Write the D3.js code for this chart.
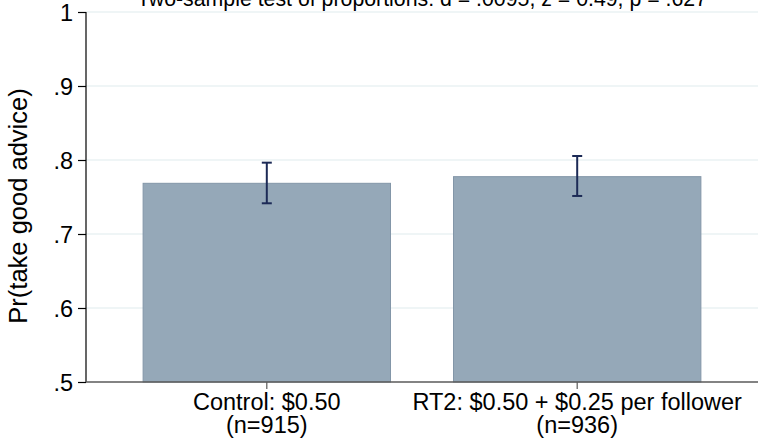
<!DOCTYPE html>
<html>
<head>
<meta charset="utf-8">
<script src="https://cdn.jsdelivr.net/npm/d3@7"></script>
<style>
  html, body { margin: 0; padding: 0; background: #fff; }
  svg { display: block; font-family: "Liberation Sans", Arial, sans-serif; }
</style>
</head>
<body>
<svg id="chart" width="758" height="439"></svg>
<script>
// Share taking good advice, by payment scheme, with 95% confidence intervals
const groups = ["Control: $0.50", "RT2: $0.50 + $0.25 per follower"];
const groupN = ["(n=915)", "(n=936)"];
const shares = [0.7685, 0.7775];
const ciLow = [0.7415, 0.7514];
const ciHigh = [0.7964, 0.8054];
const yTicks = [0.5, 0.6, 0.7, 0.8, 0.9, 1];
const yTickLabels = [".5", ".6", ".7", ".8", ".9", "1"];
const titleText = "Two-sample test of proportions: d = .0095, z = 0.49, p = .627";
const yTitle = "Pr(take good advice)";

const svg = d3.select("#chart");
const margin = { left: 86, right: 0, top: 12, bottom: 57 };
const W = 758, H = 439;

const x = d3.scaleBand()
  .domain(groups)
  .range([margin.left, W - margin.right])
  .paddingInner(0.203)
  .paddingOuter(0.184);

const y = d3.scaleLinear()
  .domain([0.5, 1])
  .range([H - margin.bottom, margin.top]);

// horizontal grid
svg.append("g")
  .selectAll("line")
  .data(yTicks.filter(t => t > 0.5))
  .join("line")
  .attr("x1", margin.left).attr("x2", W - margin.right)
  .attr("y1", d => y(d)).attr("y2", d => y(d))
  .attr("stroke", "#eaf2f3")
  .attr("stroke-width", 1.5);

// bars
const rows = groups.map((g, i) => ({ g, v: shares[i], lo: ciLow[i], hi: ciHigh[i] }));
svg.append("g")
  .selectAll("rect")
  .data(rows)
  .join("rect")
  .attr("x", d => x(d.g))
  .attr("width", x.bandwidth())
  .attr("y", d => y(d.v))
  .attr("height", d => y(0.5) - y(d.v))
  .attr("fill", "#95a8b8")
  .attr("stroke", "#8396a8")
  .attr("stroke-width", 1);

// confidence intervals
const ci = svg.append("g")
  .attr("stroke", "#1c2a56")
  .attr("stroke-width", 2);
rows.forEach(d => {
  const cx = x(d.g) + x.bandwidth() / 2;
  ci.append("line").attr("x1", cx).attr("x2", cx).attr("y1", y(d.lo)).attr("y2", y(d.hi));
  ci.append("line").attr("x1", cx - 5).attr("x2", cx + 5).attr("y1", y(d.lo)).attr("y2", y(d.lo));
  ci.append("line").attr("x1", cx - 5).attr("x2", cx + 5).attr("y1", y(d.hi)).attr("y2", y(d.hi));
});

// y axis
const yAxis = svg.append("g")
  .attr("transform", `translate(${margin.left},0)`)
  .call(d3.axisLeft(y)
    .tickValues(yTicks)
    .tickFormat((d, i) => yTickLabels[i])
    .tickSize(8)
    .tickPadding(5));
yAxis.select(".domain").attr("stroke", "#000").attr("stroke-width", 1.2).attr("d", `M0,${y(1)}V${y(0.5)}`);
yAxis.selectAll(".tick line").attr("stroke", "#000").attr("stroke-width", 1.2);
yAxis.selectAll(".tick text")
  .attr("font-size", 23.5)
  .attr("fill", "#000")
  .attr("dy", "0.36em")
  .style("font-family", "'Liberation Sans', Arial, sans-serif");

// x axis
const xAxis = svg.append("g")
  .attr("transform", `translate(0,${y(0.5)})`)
  .call(d3.axisBottom(x).tickSize(7).tickFormat(""));
xAxis.select(".domain").attr("stroke", "#5a5a5a").attr("stroke-width", 1.6)
  .attr("d", `M${margin.left},0H${W - margin.right}`);
xAxis.selectAll(".tick line").attr("stroke", "#5a5a5a").attr("stroke-width", 1.2);
xAxis.selectAll(".tick text").remove();

const xl = svg.append("g")
  .attr("font-size", 23.5)
  .attr("fill", "#000")
  .attr("text-anchor", "middle");
groups.forEach((g, i) => {
  const cx = x(g) + x.bandwidth() / 2;
  xl.append("text").attr("x", cx).attr("y", y(0.5) + 28).text(g);
  xl.append("text").attr("x", cx).attr("y", y(0.5) + 51).text(groupN[i]);
});

// y axis title
svg.append("text")
  .attr("transform", `translate(27,206) rotate(-90)`)
  .attr("text-anchor", "middle")
  .attr("font-size", 25.5)
  .attr("fill", "#000")
  .text(yTitle);

// title
svg.append("text")
  .attr("x", (margin.left + W - margin.right) / 2)
  .attr("y", 6)
  .attr("text-anchor", "middle")
  .attr("font-size", 21.3)
  .attr("fill", "#000")
  .text(titleText);
</script>
</body>
</html>
